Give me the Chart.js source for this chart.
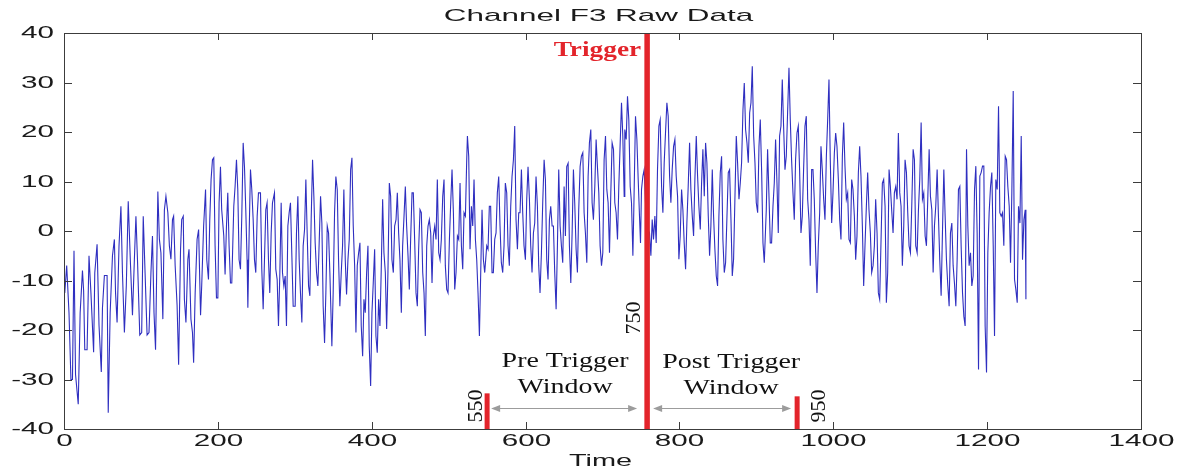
<!DOCTYPE html>
<html>
<head>
<meta charset="utf-8">
<script src="https://cdn.jsdelivr.net/npm/chart.js@4.4.1/dist/chart.umd.min.js"></script>
<style>
  html, body { margin: 0; padding: 0; background: #ffffff; }
  #wrap { width: 1186px; height: 469px; }
</style>
</head>
<body>
<div id="wrap"><canvas id="c" width="1186" height="469"></canvas></div>
<script>
// ---------- DATA (time, amplitude), by segment ----------
const f3Seg0to180 = [[1,-12.5],[3.5,-7],[6.5,-16.5],[9,-30],[11,-30],[13,-4],[15,-29],[18.5,-35],[21,-16.5],[24,-8],[25.5,-12],[27,-24],[30,-24],[32.5,-5],[35,-12.5],[38.5,-24.5],[40,-8.5],[43,-2.7],[45.5,-19],[48.5,-28.5],[50,-15.5],[52.5,-9],[56,-9],[57.5,-36.7],[60,-16.5],[63,-5],[65.5,-1.7],[67,-12.5],[69,-18.5],[71.5,-3],[74,5],[76,-8.5],[78.5,-20.5],[81,-11],[83.5,6],[86.5,-7],[89,-17],[91.5,-5.7],[93.5,3],[95.5,-5.7],[98.5,-21],[101,-20.5],[103,3],[105.5,-9],[108,-21],[110.5,-20.5],[113,-8.5],[115,-1],[117,-16.5],[119,-24],[122,8],[124,-1.7],[126,-4.4],[128.5,-17.8],[130.5,4.3],[132.5,7],[135,3.7],[137,-3],[139,-5.7],[141,2.3],[142.5,3],[144.5,-7],[147,-15],[149,-27],[151.5,-3.7],[153,2.3],[155,3],[156.5,-13.8],[158.5,-18.5],[161,-5.7],[162.5,-3.7],[165,-17.8],[167,-20.5],[168.5,-26.6],[170.5,-12.5],[173,-1.7],[175,0.3],[177.5,-17],[179,-11],[181.5,1]];

const f3Seg180to365 = [[184,8.4],[185.6,-5.8],[187.8,-9.8],[189.5,2.3],[191.2,10.4],[193,14.4],[194.7,14.8],[196.4,-3],[198.2,-13.5],[200,-13.5],[201.6,5.7],[203.4,13],[205,4.3],[207.7,-1],[209.4,-8.8],[211.2,1],[212.9,7.7],[214.6,-3],[216.4,-10.5],[218.1,-10.5],[220.7,5],[222.4,9],[224.2,14.4],[225.9,8.4],[227.6,-5.8],[229.4,-7.7],[231.1,3],[232.9,17.8],[234.6,13],[236.3,4.3],[238,-5.8],[239,-15.5],[240.7,-0.4],[242.4,12.4],[244.1,8.4],[245.9,2.3],[247.6,-5.8],[249.3,-8.4],[251.1,3],[252.8,7.7],[255.4,7.7],[257.1,-7.7],[258.9,-15.8],[260.6,-5.8],[262.3,4.3],[264,5.7],[265.8,-5.8],[267.5,-12.5],[269.3,-0.4],[271,5.7],[273.6,7.7],[275.3,-7.7],[277.1,-9.8],[278.8,-19.2],[280.6,-8.4],[282.3,5.7],[284,-8.4],[285.8,-11.1],[287.5,-9.1],[289.2,-19.2],[291,1],[292.7,3.7],[294.4,5.7],[296.2,-5],[297.9,-15.2],[300.5,-15.2],[302.2,-0.4],[304,7],[305.7,-5.8],[307.4,-12.5],[309.2,-18.5],[310.9,-3],[312.7,0.3],[314.4,10.4],[316.1,-0.4],[317.9,-11.1],[319.6,-13.1],[321.3,2.3],[323.1,14.4],[324.8,7],[326.5,-2.4],[328.3,-8.4],[330,-11.1],[331.7,-2.4],[333.5,7],[335.2,1.6],[336.9,-15.2],[338.7,-22.6],[340.4,-12.5],[342.2,1],[343.9,-0.4],[345.6,-8.4],[348.2,-23.3],[349.9,-12.5],[351.7,3.7],[353.4,11],[355.2,8.4],[356.9,-5.8],[358.6,-15.2],[360.4,-8.4],[362.1,-3],[363.8,8.4]];

const f3Seg365to548 = [[365.6,-5.8],[367.3,-12.8],[369.1,-5.8],[370.8,-1.7],[372.6,12.4],[374.3,14.8],[376,1],[377.8,-7],[379.5,-20.5],[381.2,-7],[383,-4.4],[384.7,-2.4],[386.4,-19.2],[388.2,-25.3],[389.9,-13.8],[391.6,-16.5],[393.4,-8.4],[395.1,-3],[396.8,-23.3],[398.6,-31.3],[400.3,-16.5],[402,-10.5],[403.8,-3.7],[405.5,-21.2],[407.2,-24.6],[409,-13.8],[410.7,-19.2],[412.4,-7.7],[414.2,6.4],[415.9,-4.4],[417.7,-8.4],[419.4,-19.8],[421.1,-8.4],[422.9,9.7],[424.6,7],[426.3,-5.8],[428.1,-8.4],[429.8,1],[431.6,2.3],[433.3,7.7],[435,-0.4],[436.7,-5.8],[438.5,-16.5],[440.2,-3],[442,3],[443.7,9],[445.4,1],[447.2,-5],[448.9,-11.8],[450.6,-1.7],[452.4,7.7],[454.1,7.7],[455.8,-1.7],[457.6,-12.5],[459.3,-15.2],[461,-3.7],[462.8,4.3],[464.5,3.7],[466.3,-8.4],[468,-12.5],[469.7,-21.2],[471.5,-3],[473.2,1],[474.9,2.3],[476.7,-0.4],[478.4,-10.5],[480.1,-1],[481.9,1],[483.6,-1.7],[485.3,10.4],[487.1,-4.4],[488.8,-5.8],[490.5,-1.7],[492.3,7],[494,10.4],[495.7,-7],[497.5,-11.8],[499.2,-12.5],[501,-1.7],[502.7,5.7],[504.4,12.4],[506.2,3.7],[507.9,-11.8],[509.6,-8.4],[511.4,-1],[513.1,-1.7],[514.8,9.7],[516.6,-3],[518.3,-7.7],[520,3.7],[521.8,3],[523.5,14.4],[524.4,19.2],[526.1,15.1],[527.8,-3.7],[529.6,5],[531.3,1],[533,10.4],[534.8,-1.7],[536.5,-5.8],[538.2,-12.5],[540,-21.2],[541.7,-8.4],[543.4,4.3],[545.2,-5.8],[546.9,-8.4]];

const f3Seg548to729 = [[549.5,-3],[551.2,-3.7],[552.9,5],[554.6,5],[556.4,-8.4],[558.1,-8.4],[559.9,-1.7],[561.6,-0.4],[563.3,7.7],[565.1,11],[566.8,1],[568.5,-6.4],[570.3,-8.4],[572,-3],[573.7,9.7],[575.5,7.7],[577.2,-3],[578.9,-7],[580.7,5],[582.4,11],[584.2,14.4],[585.9,21.2],[587.6,2.3],[589.4,-3.7],[591.1,3.7],[592.8,3.7],[594.6,12.4],[596.3,3.7],[598,-3],[599.8,-5.8],[601.5,6.4],[603.2,13],[605,6.4],[606.7,-3],[608.4,-8.4],[610.2,-0.4],[611.9,1.6],[613.6,11],[615.4,5],[617.1,-7],[618.8,-12.5],[620.6,-4.4],[622.3,5.7],[624.1,14.4],[625.8,10.4],[627.5,-5.8],[629.2,-9.8],[631,2.3],[632.7,5],[634.5,1],[636.2,1],[637.9,-8.4],[639.7,-15.8],[641.4,-3],[643.1,12.4],[644.9,1],[646.6,-3],[648.3,-6.4],[650.1,9],[651.8,-1],[653.5,13],[655.3,13.7],[657,-3],[658.8,-10.5],[660.5,-0.4],[662.2,12.4],[663.9,5.7],[665.7,-3.7],[667.4,-8.4],[669.1,4.3],[670.9,13],[672.6,15.1],[674.4,15.8],[676.1,3.7],[677.8,-0.4],[679.6,-6.4],[681.3,11],[683,17.8],[684.8,20.5],[686.5,5.7],[688.2,2.3],[690,9],[691.7,18.5],[693.4,13],[695.2,7.7],[696.9,-3],[698.7,-7],[700.4,-4.4],[702.1,14.4],[703.9,19.2],[705.6,8.4],[707.3,5.7],[709.1,-4.4],[710.8,7.7],[712.5,17.8],[714.3,16.5],[716,5.7],[717.7,3.7],[719.5,-1.7],[721.2,9],[723,17.8],[724.7,25.9],[726.4,19.2],[728.2,7]];

const f3Seg729to911 = [[729,20.5],[730.8,18.5],[732.5,27.2],[734.2,22.5],[736,9],[737.7,5.7],[739.5,-5],[740.7,4.3],[742.9,23.2],[744.7,18.5],[746.4,10.4],[748.1,3],[749.4,-2.4],[750.7,8.4],[752.5,11.1],[754.2,12.4],[755.9,5.7],[757.7,9.7],[759.4,0.3],[761.1,-0.4],[762.9,-5],[764.6,2.3],[766.3,-1.7],[768.1,3],[769.8,-2.4],[771.5,12.4],[773.3,21.2],[775,22.5],[776.8,9],[778.5,3.7],[780.2,13.8],[781.9,19.8],[783.7,25.9],[785.4,23.2],[787.2,11.1],[788.9,5.7],[790.6,12.4],[792.4,17.1],[794.1,18.5],[795.8,11.1],[797.6,7],[799.3,-5.7],[801,-1],[802.8,8.4],[804.5,4.3],[806.2,-2.4],[808,-7.7],[809.7,1.7],[811.4,9],[813.2,17.8],[814.9,8.4],[816.7,3],[818.4,-1],[820.1,10.4],[821.9,19.2],[823.6,11.1],[825.3,5],[827.1,0.3],[828.8,9.7],[830.5,16.5],[832.3,7],[834,17.8],[835.7,13.8],[837.5,3],[839.2,-5],[840.9,1],[842.7,12.4],[844.4,3],[846.1,-3.7],[847.9,-9.1],[849.6,-11.1],[851.3,3],[853.1,11.8],[854.8,15.1],[856.5,-1.7],[858.3,-8.4],[860,-6.4],[861.8,3],[863.5,11.8],[865.2,12.4],[867,2.3],[868.7,-9.1],[870.4,-5.7],[872.2,7],[873.9,19.2],[875.6,13.8],[877.4,6.4],[879.1,9.7],[880.8,13.8],[882.6,24.5],[884.3,29.9],[886,20.5],[887.8,17.8],[889.5,13.8],[891.3,23.9],[893,25.9],[894.7,33.3],[896.5,19.2],[898.2,13.8],[899.9,5.7],[901.7,3.7],[903.4,17.1],[905.1,22.5],[906.9,11.8],[908.6,-2.4],[910.3,-6.4]];

const f3Seg911to1094 = [[912.9,4.3],[914.6,16.5],[916.3,7.7],[918.1,-2.4],[919.8,-2.4],[921.6,5],[923.3,9.7],[925,18.5],[926.8,9.7],[928.5,-0.4],[930.2,19.2],[932,21.2],[933.7,30.6],[935.4,21.2],[937.2,12.4],[938.9,15.1],[940.6,23.9],[942.4,33],[944.1,22.5],[945.8,14.4],[947.6,7.7],[949.3,2.3],[951,14.4],[952.8,19.8],[954.5,21.2],[956.2,12.4],[958,-0.4],[959.7,3],[961.4,12.4],[963.2,21.2],[964.9,23.2],[966.7,6.4],[968.4,2.3],[970.1,-7],[971.9,12.4],[973.6,12.4],[975.3,6.4],[977.1,-4.4],[978.8,-12.5],[980.5,-3],[982.3,3.7],[984,17.1],[985.7,12.4],[987.5,6.4],[989.2,2.3],[991,15.1],[992.7,22.5],[994.4,30.6],[996.1,14.4],[997.9,1.6],[999.6,7.7],[1001.4,15.8],[1003.1,19.8],[1004.8,17.1],[1006.6,10.4],[1008.3,2.3],[1010,-1.7],[1011.8,15.1],[1013.5,21.9],[1015.2,13.1],[1017,6.4],[1018.7,7.7],[1020.4,-1.7],[1022.2,-2.4],[1023.9,10.4],[1025.6,8.4],[1027.4,3],[1029.1,-5.8],[1030.8,-1],[1032.6,11.8],[1034.3,17.1],[1036,11.1],[1037.8,1],[1039.5,-11.1],[1041.2,-3],[1043,5],[1044.7,11.8],[1046.4,4.3],[1048.2,-0.4],[1049.9,-8.4],[1051.7,-7],[1053.4,-3],[1055.1,6.4],[1056.9,-0.4],[1058.6,-12.5],[1060.3,-13.8],[1062.1,-1.7],[1063.8,9.7],[1065.5,10.4],[1067.3,5],[1069,-14.5],[1070.7,-8.4],[1072.5,12.4],[1074.2,9],[1075.9,4.3],[1077.7,-0.4],[1079.4,7.7],[1081.2,9],[1082.9,6.4],[1084.6,19.8],[1086.4,7.7],[1088.1,5],[1089.8,-7],[1091.6,1],[1093.3,14.4]];

const f3Seg1094to1251 = [[1095.1,11.8],[1096.8,3.7],[1098.5,-3],[1100.3,-4.4],[1102,5],[1103.8,16.5],[1105.5,14.4],[1107.2,-3],[1109,-4.4],[1110.7,4.3],[1112.4,10.4],[1114.2,21.9],[1115.9,6.4],[1117.6,7.7],[1119.4,-1],[1121.1,-3],[1122.8,6.4],[1124.6,16.5],[1126.3,7],[1128.1,4.3],[1129.8,-8.4],[1131.5,1],[1133.2,5],[1135,12.4],[1136.7,3],[1138.4,-5.8],[1140.2,-13.1],[1141.9,-0.4],[1143.7,12.4],[1145.4,3],[1147.1,-5.8],[1148.9,-11.1],[1150.6,-15.2],[1152.3,-0.4],[1154.1,1.6],[1155.8,-7],[1157.5,-10.5],[1159.3,-15.2],[1161,-5.8],[1162.7,8.4],[1164.5,9],[1166.2,-3],[1168,-12.5],[1169.7,-17.2],[1171.4,-19.2],[1173.2,16.5],[1174.9,1],[1176.6,-7],[1178.4,-4.4],[1180.1,-11.1],[1181.8,-9.1],[1183.6,8.4],[1185.3,13.1],[1187,-0.4],[1188.8,-28],[1190.5,11.1],[1192.2,11.8],[1194,13.1],[1195.7,13.1],[1197.4,-19.2],[1199.2,-28.6],[1200.9,-4.4],[1202.6,3.7],[1204.4,9],[1206.1,11.8],[1207.9,-3],[1209.6,-21.2],[1211.3,10.4],[1213.1,8.4],[1214.8,25.2],[1216.5,3.7],[1218.3,3],[1220,3.7],[1221.7,-3],[1223.5,15.1],[1225.2,14.4],[1226.9,9],[1228.7,5],[1230.4,-6.4],[1232.1,7.7],[1233.9,28.3],[1235.6,-9.8],[1237.3,-11.8],[1239.1,-14.5],[1240.8,5],[1242.6,1.6],[1244.3,19.2],[1246,-5.8],[1247.8,2.3],[1249.5,4.3],[1250.4,-13.8]];

const xTickValues = [0, 200, 400, 600, 800, 1000, 1200, 1400];
const yTickValues = [-40, -30, -20, -10, 0, 10, 20, 30, 40];
const windowMarkTimes = [550, 758, 953];      // where the red markers sit on the time axis
const windowMarkLabels = ['550', '750', '950'];
const windowMarkTops = [-32.8, 40, -33.4];   // top of each red marker (amplitude units)
const windowNames = ['Pre Trigger', 'Post Trigger'];
const chartTitle = 'Channel F3 Raw Data';
const xAxisTitle = 'Time';
const triggerLabel = 'Trigger';

// ---------- build dataset ----------
const allSegments = [f3Seg0to180, f3Seg180to365, f3Seg365to548, f3Seg548to729, f3Seg729to911, f3Seg911to1094, f3Seg1094to1251];
const points = [];
allSegments.forEach(seg => seg.forEach(p => points.push({ x: p[0], y: p[1] })));

const SANS = '"Liberation Sans", Arial, Helvetica, sans-serif';
const SERIF = '"Liberation Serif", "Times New Roman", Times, serif';

function drawText(ctx, txt, x, y, font, color, sx, align, baseline, rot) {
  ctx.save();
  ctx.font = font;
  ctx.fillStyle = color;
  ctx.textAlign = align;
  ctx.textBaseline = baseline;
  ctx.translate(x, y);
  if (rot) ctx.rotate(rot);
  ctx.scale(sx, 1);
  ctx.fillText(txt, 0, 0);
  ctx.restore();
}

function arrowHead(ctx, tipX, y, dir) {
  ctx.beginPath();
  ctx.moveTo(tipX, y);
  ctx.lineTo(tipX - dir * 9, y - 3.5);
  ctx.lineTo(tipX - dir * 9, y + 3.5);
  ctx.closePath();
  ctx.fill();
}

const decorPlugin = {
  id: 'decor',
  afterDatasetsDraw(chart) {
    const { ctx, chartArea: a, scales: { x, y } } = chart;
    ctx.save();

    // ---- red markers ----
    ctx.fillStyle = '#e3242b';
    windowMarkTimes.forEach((t, i) => {
      const px = x.getPixelForValue(t);
      const w = i === 1 ? 5.5 : 5;
      const top = y.getPixelForValue(windowMarkTops[i]);
      ctx.fillRect(px - w / 2, top, w, a.bottom - top);
    });

    // ---- grey double arrows ----
    const ay = 408;
    ctx.strokeStyle = '#9c9c9c';
    ctx.fillStyle = '#9c9c9c';
    ctx.lineWidth = 1;
    const p550 = x.getPixelForValue(windowMarkTimes[0]);
    const pTrig = x.getPixelForValue(windowMarkTimes[1]);
    const p950 = x.getPixelForValue(windowMarkTimes[2]);
    [[p550 + 4, pTrig - 10], [pTrig + 6, p950 - 6]].forEach(([x1, x2]) => {
      ctx.beginPath();
      ctx.moveTo(x1 + 4, ay + 0.5);
      ctx.lineTo(x2 - 4, ay + 0.5);
      ctx.stroke();
      arrowHead(ctx, x1, ay + 0.5, -1);
      arrowHead(ctx, x2, ay + 0.5, 1);
    });

    // ---- annotation texts ----
    const tFont = '22px ' + SERIF;
    const preC = (p550 + pTrig) / 2 - 2;
    const postC = (pTrig + p950) / 2 + 9;
    drawText(ctx, windowNames[0], preC, 367, tFont, '#111', 1.27, 'center', 'alphabetic');
    drawText(ctx, 'Window', preC, 393, tFont, '#111', 1.27, 'center', 'alphabetic');
    drawText(ctx, windowNames[1], postC, 368, tFont, '#111', 1.27, 'center', 'alphabetic');
    drawText(ctx, 'Window', postC, 394, tFont, '#111', 1.27, 'center', 'alphabetic');

    drawText(ctx, windowMarkLabels[0], p550 - 5, 406, tFont, '#111', 1.0, 'center', 'alphabetic', -Math.PI / 2);
    drawText(ctx, windowMarkLabels[1], pTrig - 7, 318, tFont, '#111', 1.0, 'center', 'alphabetic', -Math.PI / 2);
    drawText(ctx, windowMarkLabels[2], p950 + 28, 406, tFont, '#111', 1.0, 'center', 'alphabetic', -Math.PI / 2);

    drawText(ctx, triggerLabel, pTrig - 6, 56, 'bold 21.5px ' + SERIF, '#e3242b', 1.27, 'right', 'alphabetic');

    // ---- frame ----
    ctx.strokeStyle = '#3c3c3c';
    ctx.lineWidth = 1;
    ctx.strokeRect(Math.round(a.left) + 0.5, Math.round(a.top) + 0.5, Math.round(a.right - a.left), Math.round(a.bottom - a.top));

    // ---- inward ticks + labels ----
    const tickFont = '16px ' + SANS;
    xTickValues.forEach(v => {
      const px = Math.round(x.getPixelForValue(v)) + 0.5;
      ctx.beginPath();
      ctx.moveTo(px, a.bottom); ctx.lineTo(px, a.bottom - 7);
      ctx.moveTo(px, a.top); ctx.lineTo(px, a.top + 7);
      ctx.stroke();
      drawText(ctx, String(v), px, a.bottom + 13, tickFont, '#1a1a1a', 1.85, 'center', 'middle');
    });
    yTickValues.forEach(v => {
      const py = Math.round(y.getPixelForValue(v)) + 0.5;
      ctx.beginPath();
      ctx.moveTo(a.left, py); ctx.lineTo(a.left + 8, py);
      ctx.moveTo(a.right, py); ctx.lineTo(a.right - 8, py);
      ctx.stroke();
      drawText(ctx, String(v), a.left - 10, py, tickFont, '#1a1a1a', 1.85, 'right', 'middle');
    });

    // ---- titles ----
    drawText(ctx, chartTitle, (a.left + a.right) / 2 - 4, 16, '17px ' + SANS, '#1a1a1a', 1.85, 'center', 'middle');
    drawText(ctx, xAxisTitle, (a.left + a.right) / 2 - 2, 461, '17px ' + SANS, '#1a1a1a', 1.7, 'center', 'middle');

    ctx.restore();
  }
};

new Chart(document.getElementById('c'), {
  type: 'line',
  data: {
    datasets: [{
      label: 'F3',
      data: points,
      borderColor: '#2f2fc0',
      borderWidth: 1.1,
      pointRadius: 0,
      tension: 0,
      fill: false
    }]
  },
  options: {
    responsive: false,
    animation: false,
    devicePixelRatio: 1,
    parsing: true,
    layout: { padding: { top: 33, right: 45, left: 0, bottom: 0 } },
    plugins: { legend: { display: false }, tooltip: { enabled: false }, title: { display: false } },
    scales: {
      x: {
        type: 'linear', min: 0, max: 1400,
        grid: { display: false, drawTicks: false },
        border: { display: false },
        ticks: { display: false, stepSize: 200 },
        afterFit(s) { s.height = 40; }
      },
      y: {
        type: 'linear', min: -40, max: 40,
        grid: { display: false, drawTicks: false },
        border: { display: false },
        ticks: { display: false, stepSize: 10 },
        afterFit(s) { s.width = 64; }
      }
    }
  },
  plugins: [decorPlugin]
});
</script>
</body>
</html>
